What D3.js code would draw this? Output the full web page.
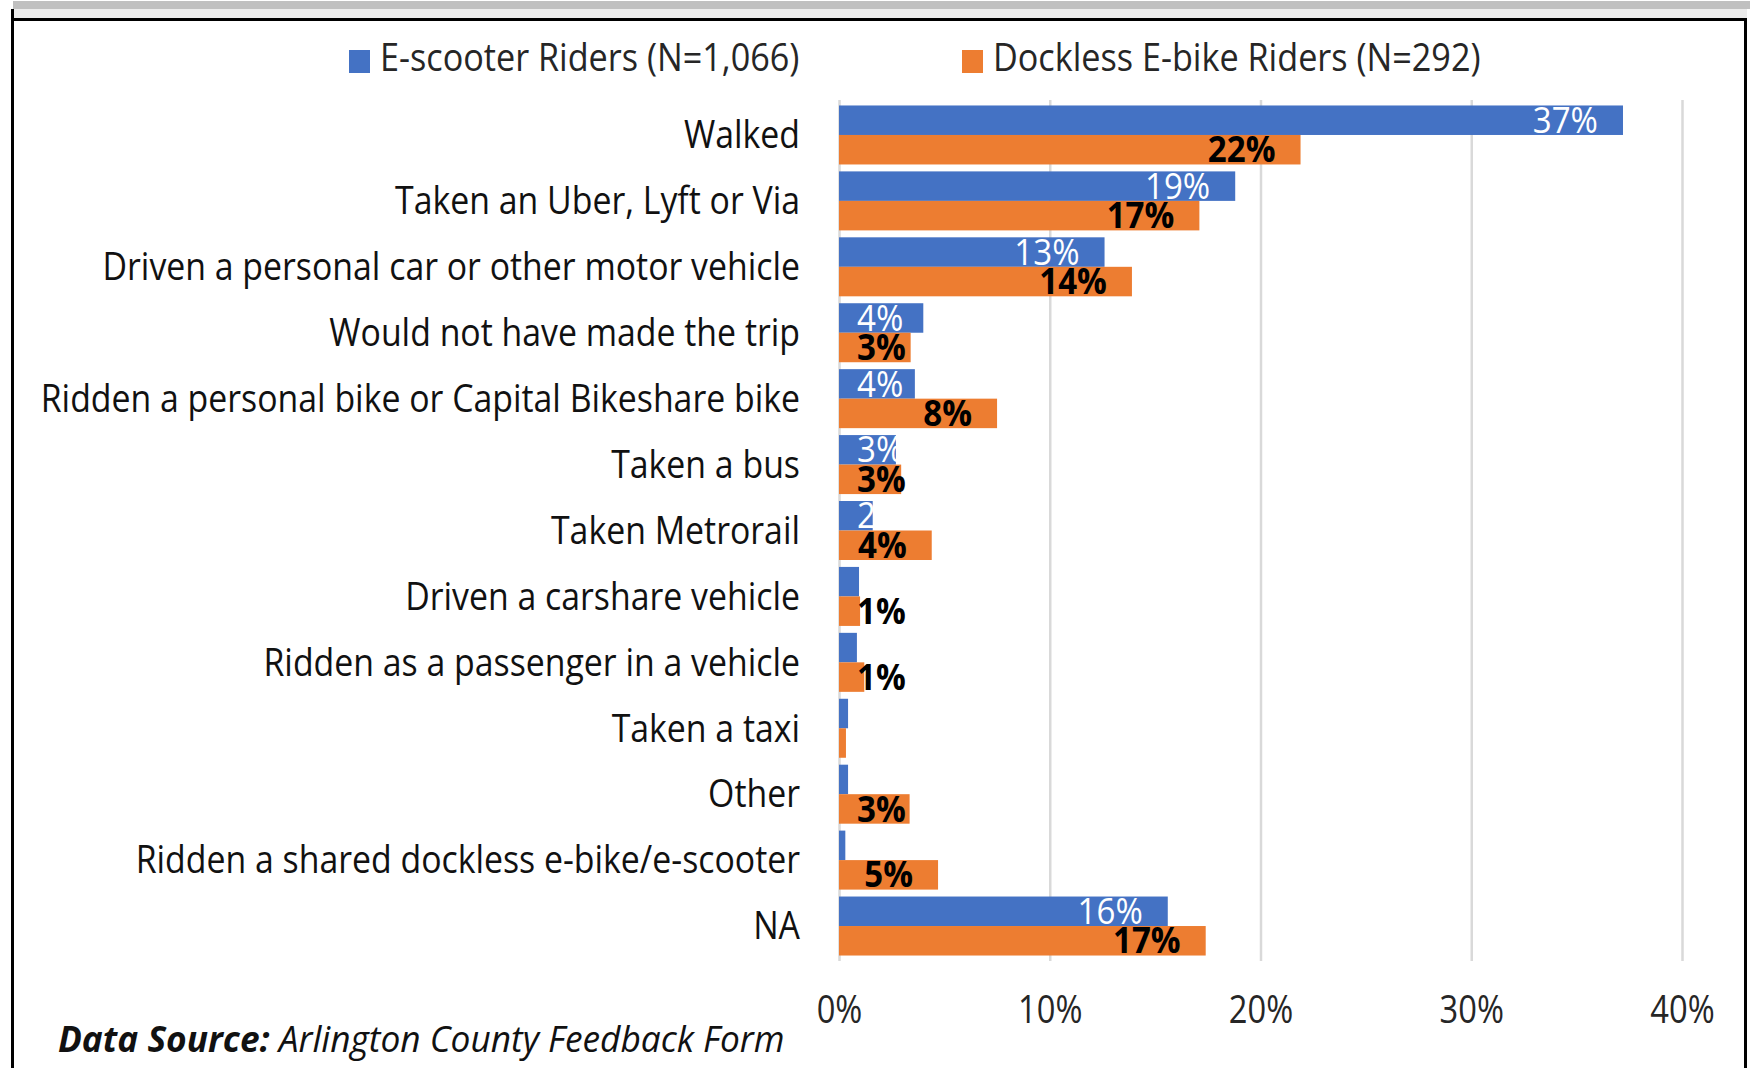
<!DOCTYPE html>
<html>
<head>
<meta charset="utf-8">
<script src="https://cdn.jsdelivr.net/npm/d3@7"></script>
<style>
  body { margin: 0; background: #fff; }
  svg { display: block; }
  text { font-family: "Open Sans", sans-serif; }
</style>
</head>
<body>
<div id="chart"></div>
<script>
// categories, top to bottom
const categories = [
  "Walked",
  "Taken an Uber, Lyft or Via",
  "Driven a personal car or other motor vehicle",
  "Would not have made the trip",
  "Ridden a personal bike or Capital Bikeshare bike",
  "Taken a bus",
  "Taken Metrorail",
  "Driven a carshare vehicle",
  "Ridden as a passenger in a vehicle",
  "Taken a taxi",
  "Other",
  "Ridden a shared dockless e-bike/e-scooter",
  "NA"
];
// percent values
const scooterValues = [37.2, 18.8, 12.6, 4.0, 3.6, 2.7, 1.6, 0.95, 0.85, 0.43, 0.43, 0.3, 15.6];
const ebikeValues = [21.9, 17.1, 13.9, 3.4, 7.5, 2.95, 4.4, 1.0, 1.2, 0.33, 3.35, 4.7, 17.4];
const seriesNames = ["E-scooter Riders (N=1,066)", "Dockless E-bike Riders (N=292)"];
const xTicks = [0, 10, 20, 30, 40];
const sourceBold = "Data Source:";
const sourceRest = " Arlington County Feedback Form";

const W = 1750, H = 1068;
const blue = "#4472c4", orange = "#ed7d31", grid = "#d9d9d9";
// the original font is narrower than Open Sans, so squeeze text sideways
const sxCat = 0.89, sxLegend = 0.9, sxTick = 0.86, sxSrc = 0.98, sxLbl = 0.92;
const fs = 38;

const svg = d3.select("#chart").append("svg").attr("width", W).attr("height", H);

// frame round the picture
svg.append("rect").attr("x", 13).attr("y", 1).attr("width", W - 13).attr("height", 8).attr("fill", "#c0c0c0");
svg.append("rect").attr("x", 14).attr("y", 9).attr("width", 1733).attr("height", 9).attr("fill", "#ececec");
svg.append("rect").attr("x", 11).attr("y", 18).attr("width", 1736).attr("height", 3).attr("fill", "#000");
svg.append("rect").attr("x", 11).attr("y", 9).attr("width", 3).attr("height", H - 9).attr("fill", "#000");
svg.append("rect").attr("x", 1744).attr("y", 18).attr("width", 3).attr("height", H - 18).attr("fill", "#000");

const plotTop = 100, plotBottom = 961;
const x = d3.scaleLinear().domain([0, 40]).range([839, 1682]);
const y = d3.scaleBand().domain(categories).range([plotTop, plotBottom])
  .paddingInner(0.105).paddingOuter(0.083);
const sub = d3.scaleBand().domain([0, 1]).range([0, y.bandwidth()]);

// gridlines
svg.append("g")
  .attr("transform", `translate(0,${plotBottom})`)
  .call(d3.axisBottom(x).tickValues(xTicks).tickSize(-(plotBottom - plotTop)).tickFormat(""))
  .call(g => g.select(".domain").remove())
  .call(g => g.selectAll("line").attr("stroke", grid).attr("stroke-width", 2.5));

// x tick labels
svg.append("g")
  .attr("transform", `translate(0,${plotBottom})`)
  .call(d3.axisBottom(x).tickValues(xTicks).tickSize(0).tickFormat(d => d + "%"))
  .call(g => g.select(".domain").remove())
  .call(g => g.selectAll("text")
    .attr("y", 0).attr("dy", "0.35em")
    .attr("transform", `translate(0,49) scale(${sxTick},1)`)
    .attr("font-size", fs).attr("font-family", "Open Sans").attr("fill", "#262626"));

// category labels
svg.append("g")
  .attr("transform", "translate(800,0)")
  .call(d3.axisLeft(y).tickSize(0).tickPadding(0))
  .call(g => g.select(".domain").remove())
  .call(g => g.selectAll("text")
    .attr("x", 0).attr("dy", "0.35em")
    .attr("transform", `scale(${sxCat},1)`)
    .attr("font-size", fs).attr("font-family", "Open Sans").attr("fill", "#111"));

const rows = categories.map((c, i) => ({ c, vals: [scooterValues[i], ebikeValues[i]] }));
const colors = [blue, orange];

const groups = svg.append("g").selectAll("g").data(rows).join("g")
  .attr("transform", d => `translate(0,${y(d.c)})`);

groups.selectAll("rect").data(d => d.vals).join("rect")
  .attr("x", x(0))
  .attr("y", (v, i) => sub(i))
  .attr("width", v => x(v) - x(0))
  .attr("height", sub.bandwidth())
  .attr("fill", (v, i) => colors[i]);

// data labels, inside end, pushed right when the bar is too short
groups.selectAll("text.lbl").data(d => d.vals.map((v, i) => ({ v, i })).filter(e => e.v >= 1))
  .join("text").attr("class", "lbl")
  .text(e => Math.round(e.v) + "%")
  .attr("font-size", fs - 2)
  .attr("font-weight", e => e.i === 1 ? 700 : 400)
  .attr("fill", e => e.i === 1 ? "#000" : "#fff")
  .attr("text-anchor", "end")
  .attr("dy", "0.35em")
  .attr("transform", function (e) {
    const w = this.getComputedTextLength() * sxLbl;
    const right = Math.max(x(e.v) - 25, x(0) + 18 + w);
    return `translate(${right},${sub(e.i) + sub.bandwidth() / 2}) scale(${sxLbl},1)`;
  });

// legend
const legend = svg.append("g");
const legendX = [349, 962];
seriesNames.forEach((name, i) => {
  legend.append("rect").attr("x", legendX[i]).attr("y", 50).attr("width", 21).attr("height", 23).attr("fill", colors[i]);
  legend.append("text").text(name)
    .attr("transform", `translate(${legendX[i] + 31},58) scale(${sxLegend},1)`)
    .attr("dy", "0.35em").attr("font-size", fs).attr("fill", "#262626");
});

// source note
const src = svg.append("text")
  .attr("transform", `translate(58,1039) scale(${sxSrc},1)`)
  .attr("dy", "0.35em").attr("font-size", fs - 2).attr("font-style", "italic").attr("fill", "#111");
src.append("tspan").attr("font-weight", 700).text(sourceBold);
src.append("tspan").text(sourceRest);
</script>
</body>
</html>
